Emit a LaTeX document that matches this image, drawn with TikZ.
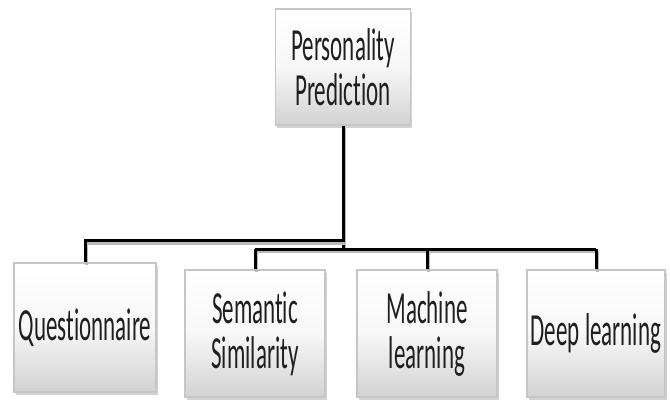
\documentclass[tikz,border=0pt]{standalone}
\usepackage{fontspec}
\newfontfamily\boxfont[FakeStretch=0.5, RawFeature={-liga}]{Carlito}
\usetikzlibrary{shadows}
\tikzset{
  boxnode/.style={rectangle, draw=gray!45, line width=1.2pt,
    top color=white, bottom color=gray!35, middle color=gray!6,
    drop shadow={opacity=0.35, shadow xshift=1.5pt, shadow yshift=-3pt},
    align=center, inner sep=0pt, text=black!88,
    font=\boxfont\fontsize{46}{45}\selectfont},
  conn/.style={draw=black, line width=3pt,
    preaction={draw=gray!55, line width=3pt, transform canvas={shift={(1.5pt,-2.5pt)}}}}
}
\begin{document}
\begin{tikzpicture}[x=1pt,y=-1pt]
\useasboundingbox (0,0) rectangle (670,401);
\node[boxnode, minimum width=135pt, minimum height=116pt] (top) at (343,67) {Personality\\Prediction};
\node[boxnode, minimum width=142pt, minimum height=129pt] (q) at (85,327.5) {Questionnaire};
\node[boxnode, minimum width=140pt, minimum height=127pt] (s) at (255,333.5) {Semantic\\Similarity};
\node[boxnode, minimum width=140pt, minimum height=127pt] (m) at (427,333.5) {Machine\\learning};
\node[boxnode, minimum width=138pt, minimum height=127pt] (d) at (596,333.5) {Deep learning};
\coordinate (j1) at (343,241);
\coordinate (j2) at (343,249);
\draw[conn] (top.south) -- (j2);
\draw[conn] (j1) -| (q.north);
\draw[conn] (s.north |- j2) -- (d.north |- j2);
\draw[conn] (s.north |- j2) -- (s.north);
\draw[conn] (m.north |- j2) -- (m.north);
\draw[conn] (d.north |- j2) -- (d.north);
\end{tikzpicture}
\end{document}
